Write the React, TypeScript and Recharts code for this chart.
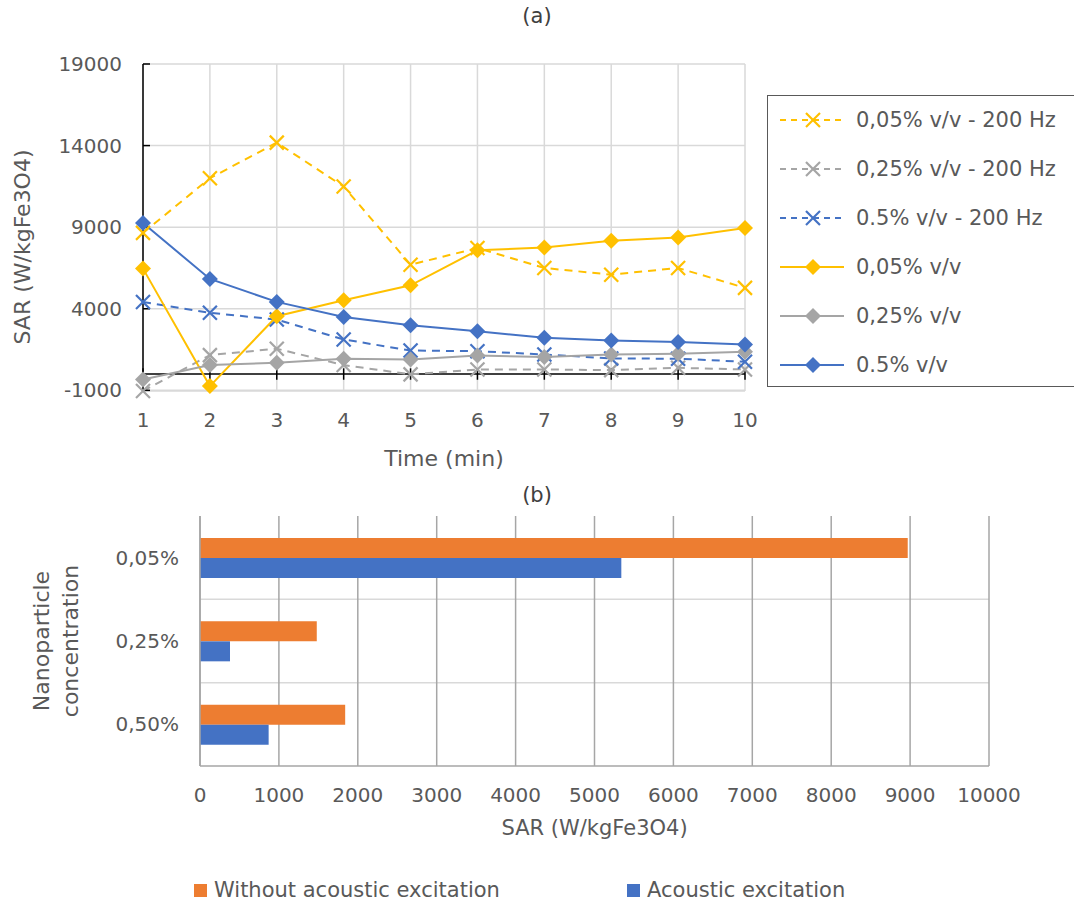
import React from "react";
import {
  LineChart,
  Line,
  XAxis,
  YAxis,
  CartesianGrid,
  ReferenceLine,
  BarChart,
  Bar,
  Label,
} from "recharts";

const FONT = "'DejaVu Sans', sans-serif";
const TEXT = "#595959";

// (a) SAR over time
const minutes = [1, 2, 3, 4, 5, 6, 7, 8, 9, 10];
const sar005Hz = [8650, 12000, 14180, 11490, 6700, 7720, 6500, 6090, 6500, 5280];
const sar025Hz = [-1040, 1160, 1550, 550, -20, 280, 280, 240, 380, 280];
const sar05Hz = [4420, 3750, 3340, 2120, 1440, 1400, 1200, 950, 940, 750];
const sar005 = [6460, -740, 3540, 4520, 5440, 7580, 7760, 8170, 8370, 8950];
const sar025 = [-330, 550, 690, 940, 890, 1140, 1040, 1200, 1240, 1360];
const sar05 = [9250, 5830, 4420, 3500, 2990, 2620, 2220, 2050, 1970, 1810];
const yTicksA = [-1000, 4000, 9000, 14000, 19000];

// (b) SAR by concentration
const concentrations = ["0,05%", "0,25%", "0,50%"];
const withoutAcoustic = [8970, 1480, 1840];
const withAcoustic = [5340, 380, 870];
const xTicksB = [0, 1000, 2000, 3000, 4000, 5000, 6000, 7000, 8000, 9000, 10000];

const seriesA = [
  { key: "s005hz", name: "0,05% v/v - 200 Hz", color: "#FFC000", dashed: true, values: sar005Hz },
  { key: "s025hz", name: "0,25% v/v - 200 Hz", color: "#A5A5A5", dashed: true, values: sar025Hz },
  { key: "s05hz", name: "0.5% v/v - 200 Hz", color: "#4472C4", dashed: true, values: sar05Hz },
  { key: "s005", name: "0,05% v/v", color: "#FFC000", dashed: false, values: sar005 },
  { key: "s025", name: "0,25% v/v", color: "#A5A5A5", dashed: false, values: sar025 },
  { key: "s05", name: "0.5% v/v", color: "#4472C4", dashed: false, values: sar05 },
];

const seriesB = [
  { key: "without", name: "Without acoustic excitation", color: "#ED7D31", values: withoutAcoustic },
  { key: "with", name: "Acoustic excitation", color: "#4472C4", values: withAcoustic },
];

const lineData = minutes.map((t, i) => {
  const row: Record<string, number> = { t };
  seriesA.forEach((s) => (row[s.key] = s.values[i]));
  return row;
});

const barData = concentrations.map((c, i) => {
  const row: Record<string, any> = { c };
  seriesB.forEach((s) => (row[s.key] = s.values[i]));
  return row;
});

const Marker = ({ cx, cy, color, cross }: { cx: number; cy: number; color: string; cross: boolean }) =>
  cross ? (
    <g>
      <line x1={cx - 7} y1={cy - 7} x2={cx + 7} y2={cy + 7} stroke={color} strokeWidth={2.2} />
      <line x1={cx - 7} y1={cy + 7} x2={cx + 7} y2={cy - 7} stroke={color} strokeWidth={2.2} />
    </g>
  ) : (
    <polygon
      points={`${cx},${cy - 8} ${cx + 8},${cy} ${cx},${cy + 8} ${cx - 8},${cy}`}
      fill={color}
    />
  );

const LineLegend = () => (
  <div
    style={{
      position: "absolute",
      left: 767,
      top: 95,
      width: 330,
      height: 292,
      border: "1px solid #595959",
      boxSizing: "border-box",
      fontFamily: FONT,
      color: TEXT,
      fontSize: 21,
    }}
  >
    {seriesA.map((s, i) => (
      <div
        key={s.key}
        style={{ position: "absolute", left: 12, top: 12 + i * 49, height: 24, display: "flex", alignItems: "center" }}
      >
        <svg width={66} height={24}>
          <line
            x1={0}
            y1={12}
            x2={64}
            y2={12}
            stroke={s.color}
            strokeWidth={2}
            strokeDasharray={s.dashed ? "6 5" : undefined}
          />
          <Marker cx={33} cy={12} color={s.color} cross={s.dashed} />
        </svg>
        <span style={{ marginLeft: 10, whiteSpace: "nowrap" }}>{s.name}</span>
      </div>
    ))}
  </div>
);

const BarLegend = () => (
  <div style={{ position: "absolute", left: 0, top: 878, fontFamily: FONT, color: TEXT, fontSize: 21 }}>
    {seriesB.map((s, i) => (
      <div
        key={s.key}
        style={{ position: "absolute", left: i === 0 ? 194 : 627, top: 0, display: "flex", alignItems: "center", whiteSpace: "nowrap" }}
      >
        <span style={{ display: "inline-block", width: 13, height: 13, background: s.color, marginRight: 7 }} />
        {s.name}
      </div>
    ))}
  </div>
);

const tickStyle = { fill: TEXT, fontSize: 20, fontFamily: FONT };

export default function App() {
  return (
    <div style={{ position: "absolute", left: 0, top: 0, width: 1074, height: 905, overflow: "hidden", background: "#fff" }}>
      <div style={{ position: "absolute", left: 0, top: 4, width: 1074, textAlign: "center", fontFamily: FONT, fontSize: 21, color: "#404040" }}>
        (a)
      </div>
      <div style={{ position: "absolute", left: 0, top: 483, width: 1074, textAlign: "center", fontFamily: FONT, fontSize: 21, color: "#404040" }}>
        (b)
      </div>

      <div style={{ position: "absolute", left: 0, top: 0 }}>
        <LineChart width={1074} height={470} data={lineData} margin={{ top: 64, right: 329, bottom: 0, left: 0 }}>
          <CartesianGrid stroke="#D9D9D9" strokeWidth={1.5} />
          <XAxis
            dataKey="t"
            type="number"
            domain={[1, 10]}
            ticks={minutes}
            height={79}
            axisLine={false}
            tickLine={false}
            tickSize={0}
            tickMargin={22}
            tick={tickStyle}
          >
            <Label
              value="Time (min)"
              position="insideBottom"
              offset={4}
              style={{ fill: TEXT, fontSize: 22, fontFamily: FONT }}
            />
          </XAxis>
          <YAxis
            type="number"
            domain={[-1000, 19000]}
            ticks={yTicksA}
            width={143}
            axisLine={{ stroke: "#000", strokeWidth: 1.5 }}
            tickLine={{ stroke: "#000", strokeWidth: 1.5 }}
            tickSize={-7}
            tickMargin={28}
            tick={tickStyle}
          >
            <Label
              content={() => (
                <text
                  x={22}
                  y={247}
                  transform="rotate(-90 22 247)"
                  textAnchor="middle"
                  dominantBaseline="central"
                  fill={TEXT}
                  fontSize={22}
                  fontFamily={FONT}
                >
                  SAR (W/kgFe3O4)
                </text>
              )}
            />
          </YAxis>
          <ReferenceLine y={0} stroke="#000" strokeWidth={1.5} />
          {minutes.map((t) => (
            <ReferenceLine
              key={t}
              segment={[
                { x: t, y: -350 },
                { x: t, y: 350 },
              ]}
              stroke="#000"
              strokeWidth={1.5}
            />
          ))}
          {seriesA.map((s) => (
            <Line
              key={s.key}
              dataKey={s.key}
              name={s.name}
              type="linear"
              stroke={s.color}
              strokeWidth={2}
              strokeDasharray={s.dashed ? "8 6" : undefined}
              isAnimationActive={false}
              dot={(p: any) => <Marker key={`${s.key}-${p.index}`} cx={p.cx} cy={p.cy} color={s.color} cross={s.dashed} />}
              activeDot={false}
            />
          ))}
        </LineChart>
      </div>
      <LineLegend />

      <div style={{ position: "absolute", left: 0, top: 470 }}>
        <BarChart
          width={1074}
          height={435}
          data={barData}
          layout="vertical"
          margin={{ top: 46, right: 85, bottom: 0, left: 0 }}
          barGap={0}
          barSize={20}
        >
          <CartesianGrid
            stroke="#D9D9D9"
            strokeWidth={1.5}
            horizontalCoordinatesGenerator={({ offset }: any) =>
              [1, 2].map((k) => offset.top + (offset.height * k) / concentrations.length)
            }
            vertical={false}
          />
          <CartesianGrid stroke="#A6A6A6" strokeWidth={1.5} horizontal={false} />
          <XAxis
            type="number"
            domain={[0, 10000]}
            ticks={xTicksB}
            height={139}
            axisLine={{ stroke: "#A6A6A6", strokeWidth: 1.5 }}
            tickLine={false}
            tickSize={0}
            tickMargin={22}
            tick={tickStyle}
          >
            <Label
              content={({ viewBox }: any) => (
                <text
                  x={viewBox.x + viewBox.width / 2}
                  y={viewBox.y + 62}
                  textAnchor="middle"
                  dominantBaseline="central"
                  fill={TEXT}
                  fontSize={21}
                  fontFamily={FONT}
                >
                  SAR (W/kgFe3O4)
                </text>
              )}
            />
          </XAxis>
          <XAxis xAxisId="top" orientation="top" type="number" domain={[0, 10000]} height={0} tick={false} tickLine={false} axisLine={{ stroke: "#A6A6A6", strokeWidth: 1.5 }} />
          <YAxis
            type="category"
            dataKey="c"
            width={200}
            axisLine={{ stroke: "#A6A6A6", strokeWidth: 1.5 }}
            tickLine={false}
            tickSize={0}
            tickMargin={21}
            tick={tickStyle}
          >
            <Label
              content={({ viewBox }: any) => {
                const cy = viewBox.y + viewBox.height / 2;
                return (
                  <text
                    transform={`rotate(-90 55 ${cy})`}
                    x={55}
                    y={cy}
                    textAnchor="middle"
                    fill={TEXT}
                    fontSize={22}
                    fontFamily={FONT}
                  >
                    <tspan x={55} dy={-6}>Nanoparticle</tspan>
                    <tspan x={55} dy={29}>concentration</tspan>
                  </text>
                );
              }}
            />
          </YAxis>
          {seriesB.map((s) => (
            <Bar key={s.key} dataKey={s.key} name={s.name} fill={s.color} isAnimationActive={false} />
          ))}
        </BarChart>
      </div>
      <BarLegend />
    </div>
  );
}
